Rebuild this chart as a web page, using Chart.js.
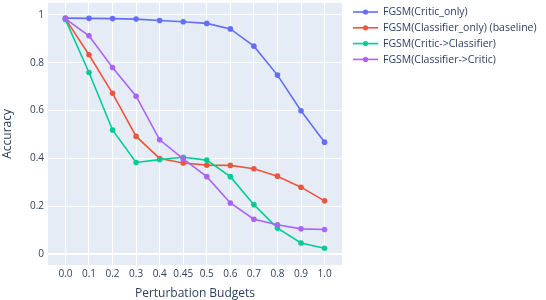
<!DOCTYPE html>
<html>
<head>
<meta charset="utf-8">
<script src="https://cdn.jsdelivr.net/npm/chart.js@4.4.1/dist/chart.umd.min.js"></script>
<style>
  html, body { margin: 0; padding: 0; background: #fff; }
</style>
</head>
<body>
<canvas id="chart" width="546" height="300"></canvas>
<script>
/* ========== DATA ========== */
const budgets = ["0.0", "0.1", "0.2", "0.3", "0.4", "0.45", "0.5", "0.6", "0.7", "0.8", "0.9", "1.0"];
const seriesNames = [
  "FGSM(Critic_only)",
  "FGSM(Classifier_only) (baseline)",
  "FGSM(Critic->Classifier)",
  "FGSM(Classifier->Critic)",
];
const criticOnly = [0.986, 0.985, 0.984, 0.982, 0.976, 0.971, 0.964, 0.941, 0.869, 0.748, 0.599, 0.468];
const classifierOnly = [0.983, 0.833, 0.672, 0.492, 0.400, 0.381, 0.372, 0.371, 0.357, 0.326, 0.280, 0.223];
const criticToClassifier = [0.980, 0.759, 0.519, 0.383, 0.395, 0.405, 0.393, 0.324, 0.207, 0.109, 0.047, 0.025];
const classifierToCritic = [0.983, 0.912, 0.780, 0.660, 0.478, 0.398, 0.324, 0.214, 0.146, 0.123, 0.106, 0.103];
const yTicks = [0, 0.2, 0.4, 0.6, 0.8, 1];
const yTickLabels = ["0", "0.2", "0.4", "0.6", "0.8", "1"];

/* ========== STYLE ========== */
const colors = ["#636efa", "#ef553b", "#00cc96", "#ab63fa"];
const textColor = "#2a3f5f";
const fontFamily = "'Open Sans', 'Noto Sans', sans-serif";

const allSeries = [criticOnly, classifierOnly, criticToClassifier, classifierToCritic];

const datasets = allSeries.map((vals, i) => ({
  label: seriesNames[i],
  data: vals.map((v, j) => ({ x: j, y: v })),
  borderColor: colors[i],
  backgroundColor: colors[i],
  borderWidth: 1.6,
  pointRadius: 2.8,
  pointHoverRadius: 2.8,
  pointBorderWidth: 0,
  tension: 0,
  order: allSeries.length - i,
}));

/* plot background */
const plotBg = {
  id: "plotBg",
  beforeDraw(chart) {
    const { ctx, chartArea: a } = chart;
    ctx.save();
    ctx.fillStyle = "#e5ecf6";
    ctx.fillRect(a.left, a.top, a.right - a.left, a.bottom - a.top);
    ctx.restore();
  },
};

/* plotly-like legend */
const sideLegend = {
  id: "sideLegend",
  afterDraw(chart) {
    const { ctx } = chart;
    const x0 = 353, y0 = 12, step = 15.8;
    ctx.save();
    ctx.font = "10.5px " + fontFamily;
    ctx.textBaseline = "middle";
    chart.data.datasets.forEach((ds, i) => {
      const y = y0 + i * step;
      ctx.strokeStyle = ds.borderColor;
      ctx.lineWidth = 1.6;
      ctx.beginPath();
      ctx.moveTo(x0, y);
      ctx.lineTo(x0 + 25, y);
      ctx.stroke();
      ctx.fillStyle = ds.borderColor;
      ctx.beginPath();
      ctx.arc(x0 + 12.5, y, 2.6, 0, Math.PI * 2);
      ctx.fill();
      ctx.fillStyle = textColor;
      ctx.fillText(ds.label, x0 + 30, y + 0.5);
    });
    ctx.restore();
  },
};

new Chart(document.getElementById("chart"), {
  type: "line",
  data: { datasets },
  options: {
    responsive: false,
    animation: false,
    events: [],
    layout: { padding: { left: 0, right: 204, top: 0, bottom: 0 } },
    plugins: { legend: { display: false }, tooltip: { enabled: false } },
    scales: {
      x: {
        type: "linear",
        min: -0.74,
        max: 11.74,
        afterBuildTicks: (s) => { s.ticks = budgets.map((b, i) => ({ value: i })); },
        afterFit: (s) => { s.height = 35; s.paddingLeft = 0; s.paddingRight = 0; },
        border: { display: false },
        grid: { color: "#ffffff", lineWidth: 1, drawTicks: false },
        ticks: {
          autoSkip: false,
          maxRotation: 0,
          padding: 3,
          color: textColor,
          font: { family: fontFamily, size: 10 },
          callback: (v) => budgets[v],
        },
        title: {
          display: true,
          text: "Perturbation Budgets",
          color: textColor,
          font: { family: fontFamily, size: 12 },
          padding: { top: 0, bottom: -1 },
        },
      },
      y: {
        min: -0.045,
        max: 1.05,
        afterBuildTicks: (s) => { s.ticks = yTicks.map((v) => ({ value: v })); },
        afterFit: (s) => { s.width = 48; s.paddingTop = 0; s.paddingBottom = 0; },
        border: { display: false },
        grid: {
          color: "#ffffff",
          lineWidth: (c) => (c.tick && c.tick.value === 0 ? 2 : 1),
          drawTicks: false,
        },
        ticks: {
          padding: 4,
          color: textColor,
          font: { family: fontFamily, size: 10 },
          callback: (v) => yTickLabels[yTicks.indexOf(v)],
        },
        title: {
          display: true,
          text: "Accuracy",
          color: textColor,
          font: { family: fontFamily, size: 12 },
          padding: { top: 0, bottom: 0 },
        },
      },
    },
  },
  plugins: [plotBg, sideLegend],
});
</script>
</body>
</html>
